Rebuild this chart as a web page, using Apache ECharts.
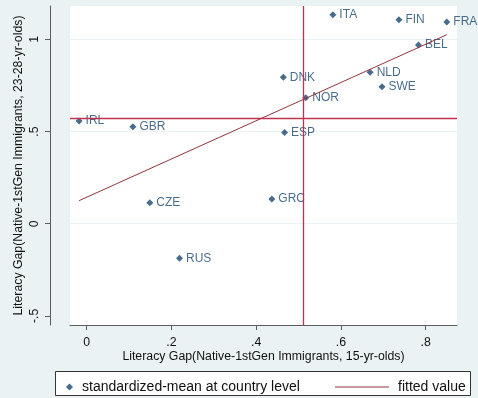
<!DOCTYPE html>
<html>
<head>
<meta charset="utf-8">
<script src="https://cdn.jsdelivr.net/npm/echarts@6/dist/echarts.min.js"></script>
<style>
  html, body { margin: 0; padding: 0; background: #eaf2f3; }
  #chart { width: 478px; height: 398px; }
</style>
</head>
<body>
<div id="chart"></div>
<script>
// Country codes and standardized literacy gaps (15-yr-olds on x, 23-28-yr-olds on y)
const countries = ['IRL', 'GBR', 'ITA', 'FIN', 'FRA', 'BEL', 'NLD', 'SWE', 'DNK', 'NOR', 'ESP', 'GRC', 'CZE', 'RUS'];
const gap15 = [-0.018, 0.109, 0.581, 0.737, 0.850, 0.783, 0.669, 0.697, 0.464, 0.517, 0.467, 0.437, 0.149, 0.219];
const gap2328 = [0.557, 0.526, 1.133, 1.106, 1.094, 0.969, 0.821, 0.743, 0.794, 0.683, 0.494, 0.134, 0.114, -0.188];

// Fitted line end points (at lowest and highest x)
const fitX = [-0.018, 0.850];
const fitY = [0.125, 1.025];

// Reference lines
const refX = 0.511;
const refY = 0.575;

// Axis ticks and gridlines
const xTicks = [0, 0.2, 0.4, 0.6, 0.8];
const yTicks = [-0.5, 0, 0.5, 1];
const yGrid = [0, 0.5, 1];

const FONT = '"Liberation Sans", Arial, sans-serif';
const NAVY = '#1a476f';
const FIT = '#90353b';

function stataNum(v) {
  if (Math.abs(v) < 1e-9) return '0';
  const s = String(Math.round(Math.abs(v) * 100) / 100).replace(/^0\./, '.');
  return (v < 0 ? '-' : '') + s;
}

const points = countries.map((c, i) => [gap15[i], gap2328[i], c]);
const fitData = fitX.map((x, i) => [x, fitY[i]]);

const chart = echarts.init(document.getElementById('chart'), null, { renderer: 'canvas' });
chart.setOption({
  backgroundColor: '#eaf2f3',
  animation: false,
  textStyle: { fontFamily: FONT },
  grid: {
    left: 70, top: 6, width: 387, height: 319,
    show: true, backgroundColor: '#ffffff', borderWidth: 0
  },
  xAxis: {
    type: 'value',
    min: -0.0394, max: 0.874,
    name: 'Literacy Gap(Native-1stGen Immigrants, 15-yr-olds)',
    nameLocation: 'middle', nameGap: 26, nameMoveOverlap: false,
    nameTextStyle: { color: '#111', fontSize: 12.3, fontFamily: FONT },
    axisLine: { show: true, onZero: false, lineStyle: { color: '#5c5c5c', width: 1 } },
    axisTick: { show: true, length: 5, lineStyle: { color: '#5c5c5c' }, customValues: xTicks },
    axisLabel: { color: '#111', fontSize: 12.3, fontFamily: FONT, margin: 12, customValues: xTicks, formatter: stataNum },
    splitLine: { show: false }
  },
  yAxis: {
    type: 'value',
    min: -0.5493, max: 1.1806,
    offset: 20,
    name: 'Literacy Gap(Native-1stGen Immigrants, 23-28-yr-olds)',
    nameLocation: 'middle', nameGap: 25, nameMoveOverlap: false,
    nameTextStyle: { color: '#111', fontSize: 12.3, fontFamily: FONT },
    axisLine: { show: true, onZero: false, lineStyle: { color: '#5c5c5c', width: 1 } },
    axisTick: { show: true, length: 5, lineStyle: { color: '#5c5c5c' }, customValues: yTicks },
    axisLabel: { color: '#111', fontSize: 12.3, fontFamily: FONT, margin: 9, rotate: 90, customValues: yTicks, formatter: stataNum },
    splitLine: { show: false }
  },
  graphic: [{
    type: 'rect',
    shape: { x: 55.5, y: 371.5, width: 415, height: 24 },
    style: { fill: '#ffffff', stroke: '#333', lineWidth: 1 },
    z: -1
  }],
  legend: [{
    data: [{ name: 'standardized-mean at country level', icon: 'diamond' }],
    left: 61, top: 375,
    itemWidth: 7, itemHeight: 7, itemGap: 0,
    textStyle: { color: '#111', fontSize: 14, fontFamily: FONT, padding: [0, 0, 0, 4] },
    selectedMode: false
  }, {
    data: [{ name: 'fitted value', icon: 'rect' }],
    left: 330, top: 375,
    itemWidth: 54, itemHeight: 1,
    itemStyle: { color: FIT },
    textStyle: { color: '#111', fontSize: 14, fontFamily: FONT, padding: [0, 0, 0, 4] },
    selectedMode: false
  }],
  series: [
    {
      // light gridlines in the plot region
      type: 'line', data: [], silent: true, z: 1,
      markLine: {
        silent: true, symbol: 'none', label: { show: false }, z: 1,
        lineStyle: { color: '#eaf2f3', width: 1, type: 'solid' },
        data: yGrid.map(v => ({ yAxis: v }))
      }
    },
    {
      name: 'standardized-mean at country level',
      type: 'scatter',
      data: points,
      symbol: 'diamond', symbolSize: 7,
      itemStyle: { color: NAVY },
      label: {
        show: true, position: 'right', distance: 3,
        formatter: p => p.data[2],
        color: NAVY, fontSize: 12, fontFamily: FONT
      },
      z: 3
    },
    {
      name: 'fitted value',
      type: 'line',
      data: fitData,
      symbol: 'none',
      lineStyle: { color: FIT, width: 1 },
      itemStyle: { color: FIT },
      z: 4
    },
    {
      // vertical and horizontal reference lines
      type: 'line', data: [], silent: true, z: 5,
      markLine: {
        silent: true, symbol: 'none', label: { show: false }, z: 5,
        lineStyle: { color: '#c0304f', width: 1.3, type: 'solid' },
        data: [{ xAxis: refX }, { yAxis: refY }]
      }
    }
  ]
});
</script>
</body>
</html>
